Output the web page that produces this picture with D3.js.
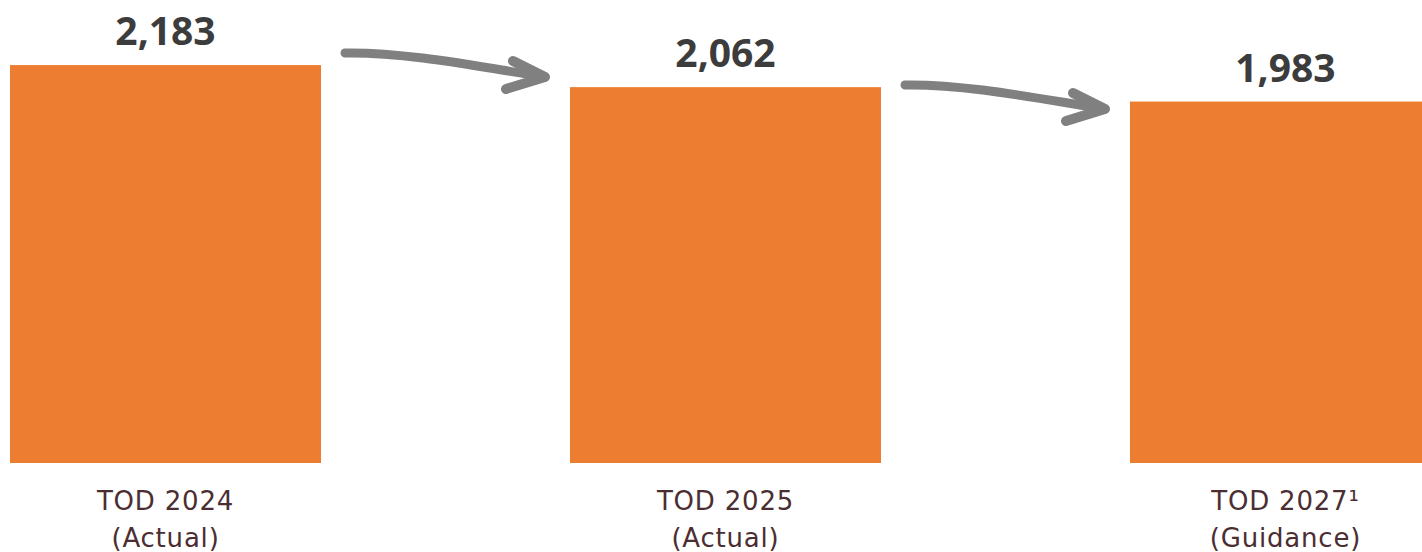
<!DOCTYPE html>
<html>
<head>
<meta charset="utf-8">
<script src="https://cdn.jsdelivr.net/npm/d3@7"></script>
<style>
  html, body { margin: 0; padding: 0; background: #fff; overflow: hidden; }
  svg { display: block; }
</style>
</head>
<body>
<svg id="chart" width="1422" height="552"></svg>
<script>
// data
const categories = ["TOD 2024", "TOD 2025", "TOD 2027¹"];
const subLabels = ["(Actual)", "(Actual)", "(Guidance)"];
const values = [2183, 2062, 1983];

const svg = d3.select("#chart"),
    width = +svg.attr("width"),
    height = +svg.attr("height");

const baseY = 463;

const x = d3.scaleBand()
    .domain(categories)
    .range([10, 1441])
    .paddingInner(0.4446)
    .paddingOuter(0);

const y = d3.scaleLinear()
    .domain([0, 2540])
    .range([baseY, 0]);

const fmt = d3.format(",");

// bars
svg.selectAll("rect.bar")
    .data(values)
    .enter().append("rect")
    .attr("class", "bar")
    .attr("x", (d, i) => x(categories[i]))
    .attr("y", d => y(d))
    .attr("width", x.bandwidth())
    .attr("height", d => baseY - y(d))
    .attr("fill", "#ED7D31");

// value labels
svg.selectAll("text.val")
    .data(values)
    .enter().append("text")
    .attr("class", "val")
    .attr("x", (d, i) => x(categories[i]) + x.bandwidth() / 2)
    .attr("y", d => y(d) - 20)
    .attr("text-anchor", "middle")
    .style("font-family", "'Open Sans', sans-serif")
    .style("font-weight", 700)
    .style("font-size", "39px")
    .style("fill", "#3c3c3c")
    .text(d => fmt(d));

// category labels (two lines)
const cat = svg.selectAll("text.cat")
    .data(categories)
    .enter().append("text")
    .attr("class", "cat")
    .attr("text-anchor", "middle")
    .style("font-family", "'DejaVu Sans', sans-serif")
    .style("font-size", "26px")
    .style("letter-spacing", "0.8px")
    .style("fill", "#4b2e32");

cat.append("tspan")
    .attr("x", d => x(d) + x.bandwidth() / 2)
    .attr("y", 510)
    .text(d => d);

cat.append("tspan")
    .attr("x", d => x(d) + x.bandwidth() / 2)
    .attr("y", 547)
    .text((d, i) => subLabels[i]);

// hand-drawn style arrows between bars
const arrowTop = [53, 85];
const arrows = d3.range(categories.length - 1).map(i => ({
    x0: x(categories[i]) + x.bandwidth() + 24,
    x1: x(categories[i + 1]) - 25,
    y0: arrowTop[i]
}));

const ag = svg.selectAll("g.arrow")
    .data(arrows)
    .enter().append("g")
    .attr("class", "arrow")
    .attr("fill", "none")
    .attr("stroke", "#808080")
    .attr("stroke-linecap", "round")
    .attr("stroke-linejoin", "round");

ag.append("path")
    .attr("stroke-width", 9)
    .attr("d", d => {
        const w = d.x1 - d.x0;
        return `M${d.x0},${d.y0} C${d.x0 + w * 0.3},${d.y0 - 1} ${d.x0 + w * 0.65},${d.y0 + 13} ${d.x1},${d.y0 + 24}`;
    });

ag.append("path")
    .attr("stroke-width", 10)
    .attr("d", d => `M${d.x1 - 32},${d.y0 + 8} L${d.x1},${d.y0 + 24} L${d.x1 - 39},${d.y0 + 36}`);
</script>
</body>
</html>
